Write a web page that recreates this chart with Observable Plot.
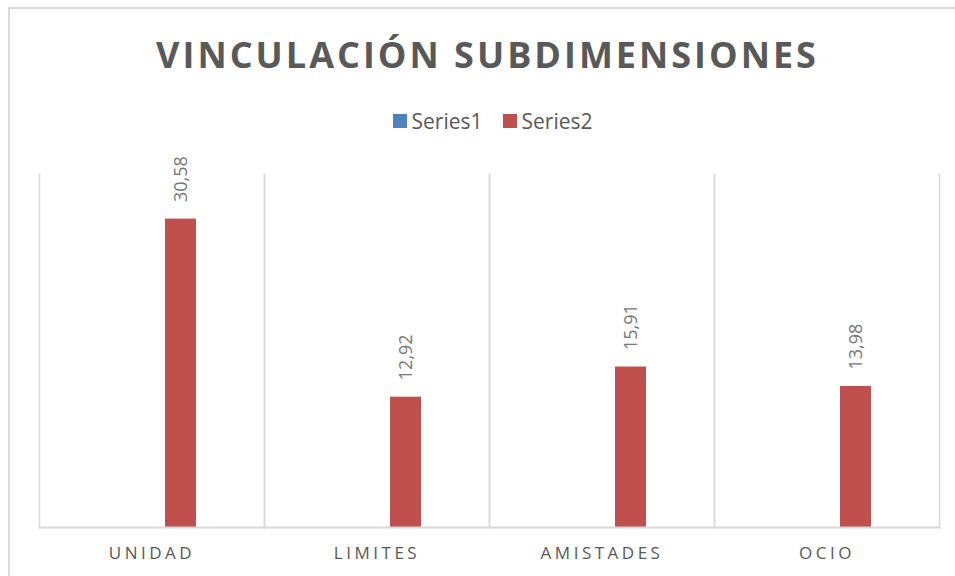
<!DOCTYPE html>
<html>
<head>
<meta charset="utf-8">
<script src="https://cdn.jsdelivr.net/npm/d3@7"></script>
<script src="https://cdn.jsdelivr.net/npm/@observablehq/plot@0.6"></script>
<style>
  html, body { margin: 0; padding: 0; background: #fff; }
  body { width: 955px; height: 576px; overflow: hidden; position: relative; font-family: "Open Sans", sans-serif; }
  #frame { position: absolute; left: 8px; top: 7px; width: 1000px; height: 1000px; border: 2px solid #d9d9d9; box-sizing: border-box; }
  #title { position: absolute; left: 0; width: 955px; top: 30px; text-align: center; font-weight: 700; font-size: 36px; letter-spacing: 3px; color: #595959; line-height: 50px; padding-left: 20px; box-sizing: border-box; }
  #legend { position: absolute; left: 0; width: 955px; top: 107px; display: flex; justify-content: center; align-items: center; font-size: 21px; color: #595959; padding-left: 30px; box-sizing: border-box; }
  .item { display: flex; align-items: center; margin: 0 10px; }
  .sw { width: 14px; height: 14px; margin-right: 5px; }
  #chart { position: absolute; left: 0; top: 150px; }
  #chart svg [aria-label="fx-axis tick label"] text { letter-spacing: 3.5px; }
</style>
</head>
<body>
<div id="frame"></div>
<div id="title">VINCULACIÓN SUBDIMENSIONES</div>
<div id="legend"></div>
<div id="chart"></div>
<script>
const categories = ["UNIDAD", "LIMITES", "AMISTADES", "OCIO"];
const seriesNames = ["Series1", "Series2"];
const series1 = [0, 0, 0, 0];
const series2 = [30.58, 12.92, 15.91, 13.98];
const seriesColors = ["#4F81BD", "#C0504D"];
const labelText = ["30,58", "12,92", "15,91", "13,98"];

const data = [];
categories.forEach((c, i) => {
  data.push({cat: c, series: "Series1", value: series1[i], label: null});
  data.push({cat: c, series: "Series2", value: series2[i], label: labelText[i]});
});

const legend = document.getElementById("legend");
seriesNames.forEach((s, i) => {
  const it = document.createElement("div");
  it.className = "item";
  it.innerHTML = `<div class="sw" style="background:${seriesColors[i]}"></div><span>${s}</span>`;
  legend.appendChild(it);
});

const plot = Plot.plot({
  width: 955,
  height: 426,
  marginLeft: 38,
  marginRight: 15,
  marginTop: 24,
  marginBottom: 49,
  style: {fontFamily: "Open Sans, sans-serif", color: "#595959", background: "transparent"},
  fx: {domain: categories, padding: 0, axis: null, label: null},
  x: {domain: seriesNames, paddingInner: 0.461, paddingOuter: 1.19, axis: null},
  y: {domain: [0, 35], axis: null},
  color: {domain: seriesNames, range: seriesColors},
  marks: [
    Plot.frame({anchor: "left", stroke: "#d9d9d9", strokeWidth: 1.5, strokeOpacity: 1}),
    Plot.frame({anchor: "right", stroke: "#d9d9d9", strokeWidth: 1.5, strokeOpacity: 1}),
    Plot.barY(data, {fx: "cat", x: "series", y: "value", fill: "series"}),
    Plot.frame({anchor: "bottom", stroke: "#d9d9d9", strokeWidth: 2, strokeOpacity: 1}),
    Plot.text(data.filter(d => d.label), {
      fx: "cat", x: "series", y: "value", text: "label",
      rotate: -90, textAnchor: "start", dy: -17,
      fontSize: 18, fill: "#767676"
    }),
    Plot.axisFx({anchor: "bottom", tickSize: 0, tickPadding: 19, fontSize: 17, color: "#595959", label: null})
  ]
});
document.getElementById("chart").appendChild(plot);
</script>
</body>
</html>
